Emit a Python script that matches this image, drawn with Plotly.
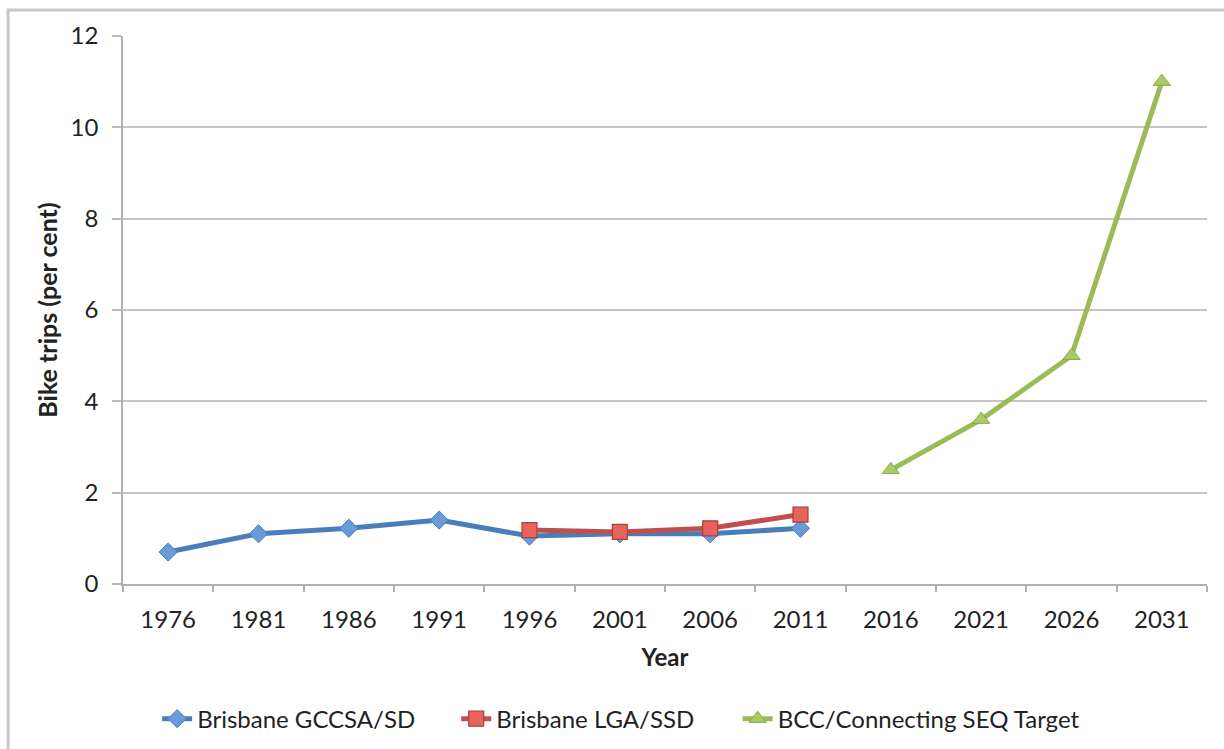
import plotly.graph_objects as go

years = ["1976", "1981", "1986", "1991", "1996", "2001", "2006", "2011", "2016", "2021", "2026", "2031"]
gccsa_years = ["1976", "1981", "1986", "1991", "1996", "2001", "2006", "2011"]
gccsa_vals = [0.70, 1.10, 1.22, 1.40, 1.05, 1.10, 1.10, 1.22]
lga_years = ["1996", "2001", "2006", "2011"]
lga_vals = [1.18, 1.14, 1.22, 1.52]
target_years = ["2016", "2021", "2026", "2031"]
target_vals = [2.5, 3.6, 5.0, 11.0]
y_ticks = [0, 2, 4, 6, 8, 10, 12]

FONT = "Lato, 'Open Sans', sans-serif"

fig = go.Figure()
fig.add_trace(go.Scatter(
    x=gccsa_years, y=gccsa_vals, mode="lines+markers", name="Brisbane GCCSA/SD",
    line=dict(color="#4A7EBB", width=5),
    marker=dict(symbol="diamond", size=14, color="#6A9BD8", line=dict(color="#4A7EBB", width=1)),
    legend="legend",
))
fig.add_trace(go.Scatter(
    x=lga_years, y=lga_vals, mode="lines+markers", name="Brisbane LGA/SSD",
    line=dict(color="#C0504D", width=5),
    marker=dict(symbol="square", size=15, color="#E8625E", line=dict(color="#A8403D", width=1.2)),
    legend="legend2",
))
fig.add_trace(go.Scatter(
    x=target_years, y=target_vals, mode="lines+markers", name="BCC/Connecting SEQ Target",
    line=dict(color="#9BBB59", width=5),
    marker=dict(symbol="triangle-up", size=15, color="#A9CB62", line=dict(color="#8AA84C", width=1)),
    legend="legend3",
))

leg_common = dict(orientation="h", xanchor="left", yref="container", y=0.040, yanchor="middle",
                  font=dict(family=FONT, size=24, color="#222222"), itemwidth=30,
                  bgcolor="rgba(0,0,0,0)")

fig.update_layout(
    width=1224, height=749,
    margin=dict(l=123, r=17, t=36, b=165, autoexpand=False),
    paper_bgcolor="white", plot_bgcolor="white",
    font=dict(family=FONT, size=24, color="#222222"),
    showlegend=True,
    legend=dict(x=0.0315, **leg_common),
    legend2=dict(x=0.3074, **leg_common),
    legend3=dict(x=0.567, **leg_common),
    xaxis=dict(
        type="category", categoryorder="array", categoryarray=years,
        tickmode="array", tickvals=years, ticktext=years,
        tickson="boundaries", ticks="outside", ticklen=6, tickcolor="#b0b0b0", tickwidth=1.5,
        showline=True, linecolor="#b0b0b0", linewidth=1.5,
        showgrid=False, range=[-0.5, 11.5], automargin=False,
        tickfont=dict(size=24, family=FONT), ticklabelstandoff=13,
        title=dict(text="<b>Year</b>", font=dict(size=24, family=FONT), standoff=18),
    ),
    yaxis=dict(
        range=[0, 12], tickmode="array", tickvals=y_ticks,
        ticks="outside", ticklen=9, tickcolor="#b8b8b8", tickwidth=1.5,
        showline=True, linecolor="#b0b0b0", linewidth=1.5,
        showgrid=True, gridcolor="#c4c4c4", gridwidth=1.5,
        zeroline=False, automargin=False,
        tickfont=dict(size=24, family=FONT), ticklabelstandoff=9,
        title=dict(text="<b>Bike trips (per cent)</b>", font=dict(size=25, family=FONT), standoff=6),
    ),
)

fig.add_shape(type="rect", xref="paper", yref="paper",
              x0=-0.106, x1=1.05, y0=-0.4, y1=1.0474,
              line=dict(color="#c8c8c8", width=3), fillcolor="rgba(0,0,0,0)", layer="below")

fig.write_html("out.html")
